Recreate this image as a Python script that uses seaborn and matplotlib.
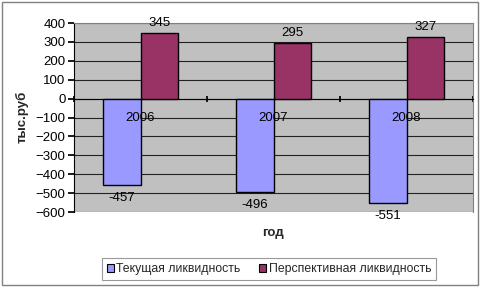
import matplotlib
matplotlib.use("Agg")
import matplotlib.pyplot as plt
import seaborn as sns
import pandas as pd
from matplotlib.patches import Rectangle

years = ["2006", "2007", "2008"]
series_names = ["Текущая ликвидность", "Перспективная ликвидность"]
current = [-457, -496, -551]
perspective = [345, 295, 327]
colors = ["#9999FF", "#993366"]

df = pd.DataFrame({
    "year": years * 2,
    "series": [series_names[0]] * 3 + [series_names[1]] * 3,
    "value": current + perspective,
})

sns.set_theme(style="white")
plt.rcParams['font.family'] = ['Liberation Sans', 'DejaVu Sans']
FS = 9.5

fig = plt.figure(figsize=(4.83, 2.87), dpi=100)
ax = fig.add_axes([74/483, 1-212/287, 399/483, 189/287])
ax.set_facecolor("#C0C0C0")

sns.barplot(data=df, x="year", y="value", hue="series", palette=colors,
            width=0.57, edgecolor="black", linewidth=1, saturation=1,
            ax=ax, legend=False, zorder=3)

ax.set_ylim(-600, 400)
ax.set_xlim(-0.5, 2.5)
ax.set_yticks(range(-600, 401, 100))
ax.yaxis.grid(True, color="#222222", linewidth=0.8, zorder=0)
ax.set_axisbelow(True)
ax.tick_params(axis="y", labelsize=FS, length=4, direction="out", left=True, pad=2, colors="black")

# x axis at zero with category boundary ticks
ax.spines["bottom"].set_position(("data", 0))
ax.spines["bottom"].set_color("black")
ax.spines["bottom"].set_linewidth(0.8)
ax.set_xticks([-0.5, 0.5, 1.5, 2.5])
ax.set_xticklabels([])
ax.tick_params(axis="x", which="major", length=4, direction="inout", bottom=True, colors="black")
ax.tick_params(axis="x", which="minor", length=0)

# category labels drawn on top of bars
for i, y in enumerate(years):
    ax.annotate(y, xy=(i, 0), xytext=(0, -19), textcoords="offset pixels",
                ha="center", va="center", fontsize=FS, color="black", zorder=10)

ax.spines["left"].set_color("black")
ax.spines["left"].set_linewidth(0.8)
for s in ["top", "right"]:
    ax.spines[s].set_color("#808080")
    ax.spines[s].set_linewidth(0.8)

# data labels
for c, cont in enumerate(ax.containers):
    vals = current if c == 0 else perspective
    ax.bar_label(cont, labels=[str(v) for v in vals], padding=3 if c == 1 else 5,
                 fontsize=FS, color="black")

ax.set_xlabel("")
ax.set_ylabel("")
fig.text(273/483, 1-233/287, "год", ha="center", va="center", fontsize=FS, fontweight="bold")
fig.text(22/483, 1-117/287, "тыс.руб", ha="center", va="center", rotation=90, fontsize=FS, fontweight="bold")

handles = [Rectangle((0, 0), 1, 1, facecolor=colors[i], edgecolor="black", linewidth=0.8) for i in range(2)]
leg = fig.legend(handles, series_names, loc="center", bbox_to_anchor=(269/483, 1-269/287),
                 ncol=2, fontsize=8.8, frameon=True, fancybox=False, handlelength=0.6, handleheight=0.6,
                 handletextpad=0.2, columnspacing=1.5, borderpad=0.4)
leg.get_frame().set_edgecolor("#808080")
leg.get_frame().set_linewidth(0.8)

fig.patches.append(Rectangle((2/483, 2/287), 476/483, 283/287, transform=fig.transFigure,
                             fill=False, edgecolor="#808080", linewidth=1))

fig.savefig("out.png", dpi=100)
